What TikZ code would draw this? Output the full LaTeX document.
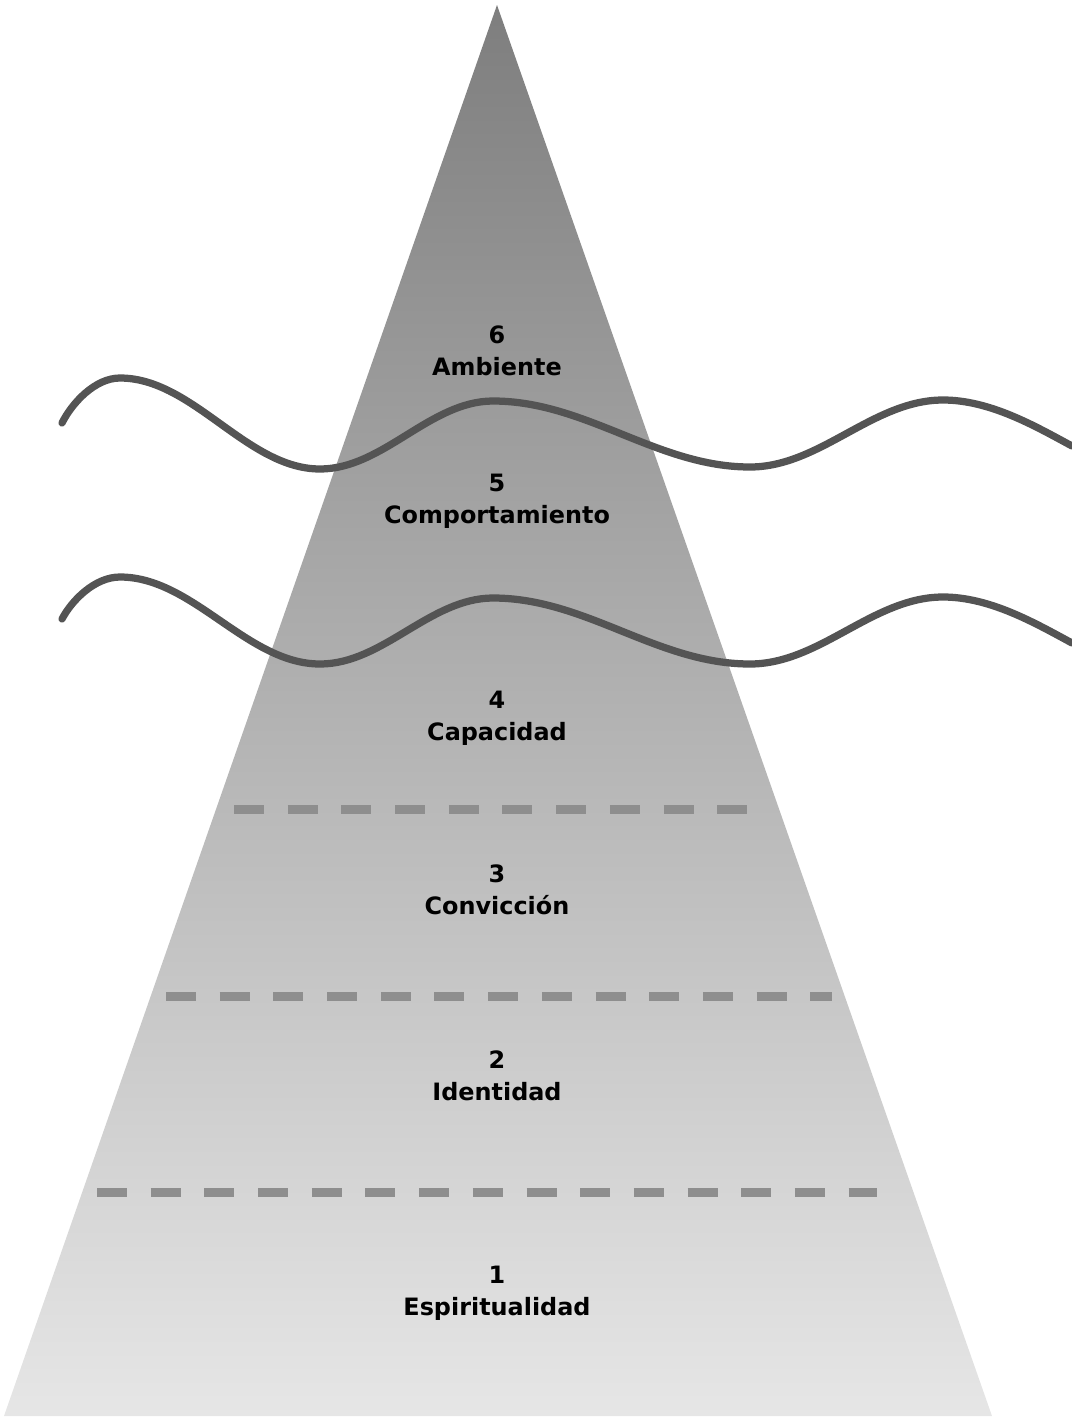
\documentclass[tikz,border=0pt]{standalone}
\usepackage{fontspec}
\setmainfont{DejaVu Sans}
\definecolor{wavegray}{RGB}{84,84,84}
\definecolor{dashgray}{RGB}{142,142,142}
\definecolor{topgray}{RGB}{126,126,126}
\definecolor{basegray}{RGB}{230,230,230}
\tikzset{
  wave/.style={draw=wavegray, line width=0.145cm, line cap=round},
  levelsep/.style={draw=dashgray, line width=0.18cm, dash pattern=on 0.6cm off 0.474cm},
  levellabel/.style={align=center, font=\bfseries\fontsize{13.6}{18}\selectfont, text=black}
}
\begin{document}
\begin{tikzpicture}[x=0.02cm, y=-0.02cm]
  \useasboundingbox (0,0) rectangle (1072,1417);
  \coordinate (T) at (497,5);
  \coordinate (L) at (4,1416);
  \coordinate (R) at (992,1416);

  \shade[top color=topgray, bottom color=basegray] (T) -- (R) -- (L) -- cycle;

  % level separators
  \coordinate (s1a) at (234,809);  \coordinate (s1b) at (748,809);
  \coordinate (s2a) at (166,996);  \coordinate (s2b) at (832,996);
  \coordinate (s3a) at (97,1192);  \coordinate (s3b) at (877,1192);
  \draw[levelsep] (s1a) -- (s1b);
  \draw[levelsep] (s2a) -- (s2b);
  \draw[levelsep] (s3a) -- (s3b);

  % waves
  \draw[wave] (62,423) .. controls (72,403) and (95,378) .. (120,378)
    .. controls (193,378) and (247,469) .. (320,469)
    .. controls (383,469) and (430,401) .. (493,401)
    .. controls (586,401) and (657,467) .. (750,467)
    .. controls (820,467) and (873,400) .. (943,400)
    .. controls (990,400) and (1035,426) .. (1072,446);
  \draw[wave] (62,619) .. controls (72,600) and (95,577) .. (120,577)
    .. controls (193,577) and (247,664) .. (320,664)
    .. controls (383,664) and (430,598) .. (493,598)
    .. controls (586,598) and (657,664) .. (750,664)
    .. controls (820,664) and (873,597) .. (943,597)
    .. controls (990,597) and (1035,623) .. (1072,643);

  % levels
  \node[levellabel] (n6) at (497,351) {6\\Ambiente};
  \node[levellabel] (n5) at (497,501) {5\\Comportamiento};
  \node[levellabel] (n4) at (497,718) {4\\Capacidad};
  \node[levellabel] (n3) at (497,890) {3\\Convicción};
  \node[levellabel] (n2) at (497,1076) {2\\Identidad};
  \node[levellabel] (n1) at (497,1293) {1\\Espiritualidad};
\end{tikzpicture}
\end{document}
